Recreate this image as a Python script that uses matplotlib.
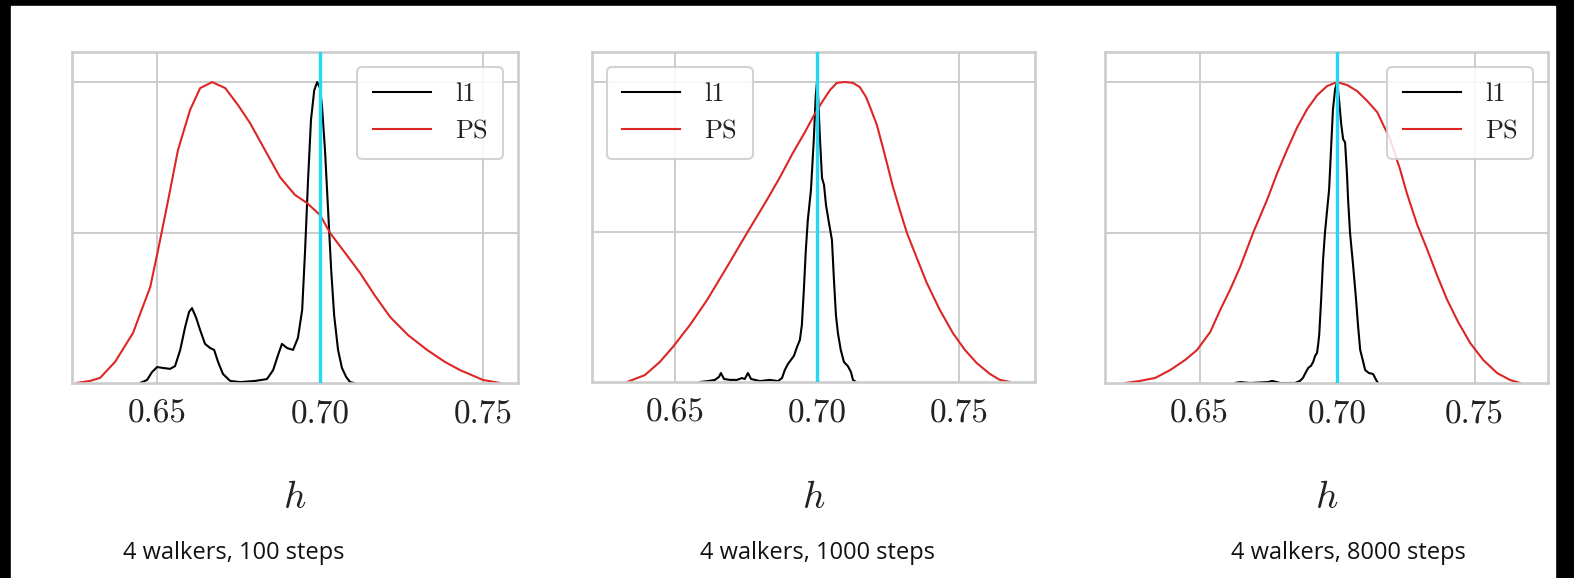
import matplotlib.pyplot as plt
from matplotlib.patches import Rectangle

plt.rcParams['mathtext.fontset'] = 'cm'

# valores (densidade normalizada ao pico)
h_ticks = [0.65, 0.70, 0.75]
tick_labels = ['0.65', '0.70', '0.75']
h_true = 0.70
subtitles = ['4 walkers, 100 steps', '4 walkers, 1000 steps', '4 walkers, 8000 steps']
legend_locs = ['upper right', 'upper left', 'upper right']
xlims = [(0.6239, 0.7607), (0.6208, 0.7768), (0.6156, 0.7767)]

# 100 passos
h_ps_100 = [0.6252, 0.6295, 0.6325, 0.6371, 0.6426, 0.6479, 0.6503, 0.6534, 0.6564, 0.6601,
            0.6632, 0.6669, 0.6709, 0.6748, 0.6785, 0.6831, 0.6877, 0.6923, 0.6960, 0.7000,
            0.7031, 0.7077, 0.7123, 0.7169, 0.7215, 0.7270, 0.7328, 0.7383, 0.7429, 0.7500, 0.7552]
p_ps_100 = [0.0, 0.007, 0.017, 0.070, 0.166, 0.319, 0.442, 0.608, 0.774, 0.907,
            0.980, 1.0, 0.980, 0.924, 0.864, 0.774, 0.684, 0.625, 0.598, 0.558,
            0.498, 0.432, 0.365, 0.289, 0.219, 0.159, 0.110, 0.070, 0.043, 0.010, 0.0]
h_l1_100 = [0.6448, 0.6469, 0.6485, 0.6500, 0.6518, 0.6540, 0.6555, 0.6571, 0.6586, 0.6598,
            0.6607, 0.6620, 0.6632, 0.6647, 0.6663, 0.6675, 0.6687, 0.6702, 0.6724, 0.6755,
            0.6801, 0.6837, 0.6856, 0.6871, 0.6883, 0.6899, 0.6917, 0.6932, 0.6945, 0.6954,
            0.6963, 0.6972, 0.6982, 0.6991, 0.7000, 0.7006, 0.7015, 0.7024, 0.7034, 0.7043,
            0.7055, 0.7067, 0.7080, 0.7092, 0.7104]
p_l1_100 = [0.0, 0.010, 0.037, 0.053, 0.050, 0.047, 0.056, 0.110, 0.186, 0.236,
            0.249, 0.216, 0.176, 0.130, 0.116, 0.110, 0.070, 0.030, 0.007, 0.003,
            0.007, 0.013, 0.043, 0.093, 0.130, 0.116, 0.110, 0.150, 0.243, 0.442,
            0.674, 0.874, 0.973, 1.0, 0.980, 0.917, 0.774, 0.585, 0.375, 0.226,
            0.110, 0.050, 0.020, 0.003, 0.0]

# 1000 passos
h_ps_1000 = [0.6331, 0.6394, 0.6447, 0.6493, 0.6553, 0.6613, 0.6683, 0.6754, 0.6824, 0.6870,
             0.6915, 0.6958, 0.6986, 0.7018, 0.7046, 0.7070, 0.7099, 0.7127, 0.7151, 0.7173,
             0.7187, 0.7211, 0.7232, 0.7250, 0.7268, 0.7292, 0.7317, 0.7352, 0.7387, 0.7433,
             0.7479, 0.7521, 0.7563, 0.7609, 0.7644, 0.7680]
p_ps_1000 = [0.0, 0.023, 0.067, 0.117, 0.190, 0.273, 0.383, 0.497, 0.607, 0.683,
             0.763, 0.833, 0.883, 0.933, 0.973, 0.997, 1.0, 0.997, 0.983, 0.950,
             0.917, 0.857, 0.783, 0.717, 0.650, 0.573, 0.497, 0.413, 0.330, 0.240,
             0.163, 0.107, 0.063, 0.027, 0.007, 0.0]
h_l1_1000 = [0.6588, 0.6616, 0.6641, 0.6655, 0.6662, 0.6673, 0.6694, 0.6718, 0.6736, 0.6746,
             0.6757, 0.6768, 0.6782, 0.6799, 0.6834, 0.6863, 0.6877, 0.6887, 0.6898, 0.6908,
             0.6919, 0.6930, 0.6940, 0.6947, 0.6954, 0.6961, 0.6968, 0.6979, 0.6989, 0.6996,
             0.7000, 0.7004, 0.7011, 0.7018, 0.7025, 0.7032, 0.7042, 0.7053, 0.7060, 0.7067,
             0.7074, 0.7084, 0.7095, 0.7109, 0.7120, 0.7127, 0.7137]
p_l1_1000 = [0.0, 0.003, 0.007, 0.017, 0.030, 0.010, 0.007, 0.007, 0.013, 0.010,
             0.030, 0.010, 0.007, 0.003, 0.007, 0.003, 0.013, 0.040, 0.060, 0.073,
             0.087, 0.117, 0.140, 0.190, 0.307, 0.440, 0.540, 0.640, 0.807, 0.957,
             0.997, 0.957, 0.807, 0.680, 0.657, 0.590, 0.533, 0.473, 0.340, 0.223,
             0.163, 0.107, 0.067, 0.053, 0.033, 0.007, 0.0]

# 8000 passos
h_ps_8000 = [0.6230, 0.6284, 0.6339, 0.6393, 0.6448, 0.6491, 0.6539, 0.6575, 0.6611, 0.6648,
             0.6695, 0.6746, 0.6782, 0.6819, 0.6855, 0.6891, 0.6928, 0.6964, 0.7000, 0.7037,
             0.7073, 0.7110, 0.7146, 0.7193, 0.7229, 0.7255, 0.7291, 0.7328, 0.7364, 0.7400,
             0.7440, 0.7484, 0.7531, 0.7582, 0.7629, 0.7666]
p_ps_8000 = [0.0, 0.007, 0.017, 0.043, 0.077, 0.110, 0.170, 0.243, 0.310, 0.387,
             0.500, 0.610, 0.697, 0.777, 0.850, 0.910, 0.957, 0.987, 1.0, 0.990,
             0.970, 0.937, 0.900, 0.810, 0.710, 0.627, 0.527, 0.443, 0.357, 0.277,
             0.203, 0.133, 0.077, 0.033, 0.010, 0.0]
h_l1_8000 = [0.6629, 0.6647, 0.6684, 0.6749, 0.6764, 0.6793, 0.6847, 0.6865, 0.6876, 0.6887,
             0.6895, 0.6905, 0.6913, 0.6920, 0.6927, 0.6931, 0.6935, 0.6942, 0.6949, 0.6956,
             0.6964, 0.6971, 0.6978, 0.6985, 0.6993, 0.7000, 0.7007, 0.7015, 0.7022, 0.7029,
             0.7036, 0.7040, 0.7047, 0.7058, 0.7069, 0.7076, 0.7084, 0.7095, 0.7102, 0.7116,
             0.7131, 0.7142, 0.7149]
p_l1_8000 = [0.0, 0.003, 0.0, 0.003, 0.007, 0.0, 0.0, 0.007, 0.017, 0.037,
             0.050, 0.057, 0.070, 0.090, 0.100, 0.127, 0.160, 0.277, 0.410, 0.500,
             0.577, 0.643, 0.777, 0.910, 0.977, 1.0, 0.943, 0.860, 0.810, 0.800,
             0.693, 0.610, 0.500, 0.393, 0.277, 0.193, 0.110, 0.070, 0.043, 0.033,
             0.030, 0.010, 0.0]

series = [
    (h_l1_100, p_l1_100, h_ps_100, p_ps_100),
    (h_l1_1000, p_l1_1000, h_ps_1000, p_ps_1000),
    (h_l1_8000, p_l1_8000, h_ps_8000, p_ps_8000),
]

# layout em pixels (x0, x1, y_top, y_bottom)
W, H = 1574, 578
boxes = [(72, 518, 52, 383), (592, 1035, 52, 382), (1105, 1548, 52, 383)]
sub_x = [234, 817, 1348]
y_hlabel = 497
y_sub = 553

fig = plt.figure(figsize=(W / 100, H / 100), dpi=100, facecolor='black')
fig.add_artist(Rectangle((11 / W, 0), (1555 - 11) / W, (H - 6) / H,
                         transform=fig.transFigure, color='white', zorder=0))

grid_c = '#cccccc'
red = '#dc2626'
cyan = '#22d8f2'

for i, (x0, x1, yt, yb) in enumerate(boxes):
    ax = fig.add_axes([x0 / W, 1 - yb / H, (x1 - x0) / W, (yb - yt) / H])
    hl, pl, hp, pp = series[i]
    ax.plot(hl, pl, color='black', lw=1.5, label='l1')
    ax.plot(hp, pp, color=red, lw=1.5, label='PS')
    ax.axvline(h_true, color=cyan, lw=2.4, zorder=5)

    ax.set_xlim(*xlims[i])
    ax.set_ylim(0, 1.1)
    ax.set_xticks(h_ticks)
    ax.set_xticklabels(tick_labels, fontfamily='cmr10', fontsize=24, color='#222222')
    ax.set_yticks([0.5, 1.0])
    ax.set_yticklabels([])
    ax.tick_params(length=0, pad=12)
    ax.grid(True, color=grid_c, lw=1.4)
    ax.set_axisbelow(True)
    for s in ax.spines.values():
        s.set_color(grid_c)
        s.set_linewidth(1.9)

    leg = ax.legend(loc=legend_locs[i], prop={'family': 'cmr10', 'size': 19},
                    frameon=True, fancybox=True, framealpha=0.85,
                    handlelength=2.2, borderaxespad=0.55, borderpad=0.6,
                    handletextpad=0.9)
    leg.get_frame().set_edgecolor(grid_c)
    leg.get_frame().set_linewidth(1.5)
    for t in leg.get_texts():
        t.set_color('#222222')

    xc = (x0 + x1) / 2 / W
    fig.text(xc, 1 - y_hlabel / H, '$h$', fontsize=28, ha='center', va='center', color='#222222')
    fig.text(sub_x[i] / W, 1 - y_sub / H, subtitles[i], fontfamily='Open Sans',
             fontsize=17, ha='center', va='center', color='#111111')

fig.savefig('out.png', dpi=100, facecolor=fig.get_facecolor())
